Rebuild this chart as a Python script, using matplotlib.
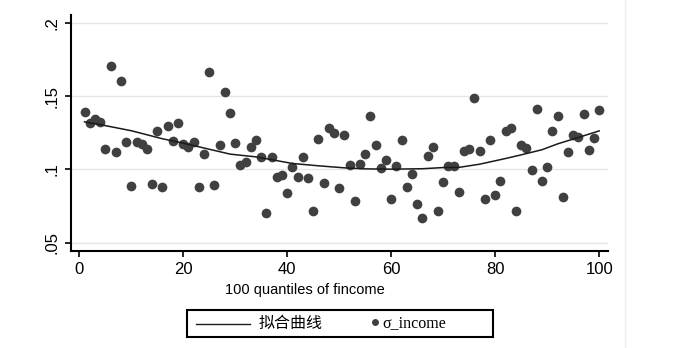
import matplotlib
matplotlib.use("Agg")
import matplotlib.pyplot as plt
from matplotlib.lines import Line2D
from matplotlib.patches import Rectangle

# scatter: sigma of income for each of the 100 income quantiles
quantile = list(range(1, 101))
sigma_income = [
	0.1390, 0.1315, 0.1344, 0.1326, 0.1140, 0.1708, 0.1118, 0.1607, 0.1187, 0.0890,
	0.1187, 0.1175, 0.1137, 0.0899, 0.1262, 0.0882, 0.1300, 0.1196, 0.1319, 0.1173,
	0.1153, 0.1187, 0.0883, 0.1107, 0.1666, 0.0892, 0.1166, 0.1532, 0.1384, 0.1178,
	0.1029, 0.1048, 0.1155, 0.1205, 0.1086, 0.0703, 0.1086, 0.0949, 0.0959, 0.0840,
	0.1018, 0.0949, 0.1086, 0.0940, 0.0714, 0.1210, 0.0904, 0.1283, 0.1247, 0.0874,
	0.1234, 0.1029, 0.0783, 0.1038, 0.1107, 0.1363, 0.1166, 0.1007, 0.1062, 0.0799,
	0.1023, 0.1205, 0.0883, 0.0968, 0.0764, 0.0666, 0.1093, 0.1155, 0.0719, 0.0911,
	0.1021, 0.1021, 0.0845, 0.1127, 0.1139, 0.1490, 0.1127, 0.0795, 0.1203, 0.0822,
	0.0922, 0.1264, 0.1285, 0.0714, 0.1166, 0.1148, 0.0993, 0.1415, 0.0920, 0.1016,
	0.1264, 0.1363, 0.0810, 0.1118, 0.1233, 0.1221, 0.1381, 0.1132, 0.1214, 0.1406,
]

fit_x = [1, 5, 10, 16, 20, 23, 29, 34, 41, 46, 51, 55, 60, 66, 70, 73, 77, 82, 85, 89, 92, 96, 100]
fit_y = [0.1326, 0.1300, 0.1265, 0.1210, 0.1180, 0.1155, 0.1105, 0.1086, 0.1041, 0.1025,
	0.1011, 0.1004, 0.1002, 0.1005, 0.1013, 0.1014, 0.1036, 0.1075, 0.1100, 0.1135,
	0.1175, 0.1219, 0.1264]

x_ticks = [0, 20, 40, 60, 80, 100]
y_ticks = [0.05, 0.1, 0.15, 0.2]
y_tick_labels = [".05", ".1", ".15", ".2"]

W, H = 696.0, 348.0


def plot():
	fig = plt.figure(figsize=(6.96, 3.48), dpi=100)
	fig.patch.set_facecolor("white")
	ax = fig.add_axes([71 / W, 97 / H, 537 / W, 236 / H])

	ax.plot(quantile, sigma_income, "o", ms=7, color="#404040", mec="none", zorder=3)
	ax.plot(fit_x, fit_y, "-", color="#1a1a1a", lw=1.1, zorder=4)

	ax.set_xlim(-1.6, 101.7)
	ax.set_ylim(0.0442, 0.2057)
	ax.set_xticks(x_ticks)
	ax.set_yticks(y_ticks)
	ax.set_yticklabels(y_tick_labels, rotation=90, va="center")
	for lab in ax.get_xticklabels() + ax.get_yticklabels():
		lab.set_family("Liberation Sans")
		lab.set_fontsize(12)
	ax.tick_params(direction="out", length=4, width=1.2, color="black", pad=4)
	ax.grid(axis="y", color="#e6e6e6", lw=1.0)
	ax.set_axisbelow(True)
	for s in ["top", "right"]:
		ax.spines[s].set_visible(False)
	for s in ["left", "bottom"]:
		ax.spines[s].set_linewidth(1.5)

	fig.text(305 / W, 1 - 290 / H, "100 quantiles of fincome", ha="center", va="center",
		fontsize=10.5, family="Liberation Sans")

	# faint border of the graph region on the right
	fig.add_artist(Line2D([625 / W, 625 / W], [0, 1], color="#eeeeee", lw=1.0))

	# legend box
	fig.add_artist(Rectangle((187 / W, 1 - 337 / H), 306 / W, 27 / H, fill=False,
		ec="black", lw=1.5, transform=fig.transFigure))
	ly = 1 - 323.5 / H
	fig.add_artist(Line2D([196 / W, 250 / W], [ly, ly], color="#1a1a1a", lw=1.0))
	fig.text(259 / W, ly, "拟合曲线", ha="left", va="center", fontsize=11.5,
		family=["Noto Sans CJK SC", "DejaVu Sans"], fontweight="medium")
	fig.add_artist(Line2D([375 / W], [ly + 2 / H], marker="o", ms=5, color="#404040", mec="none"))
	fig.text(382 / W, ly, "σ_income", ha="left", va="center", fontsize=11.5,
		family="Liberation Serif")

	plt.savefig("out.png", dpi=100)


def main():
	plot()
if __name__ == "__main__":
	main()
